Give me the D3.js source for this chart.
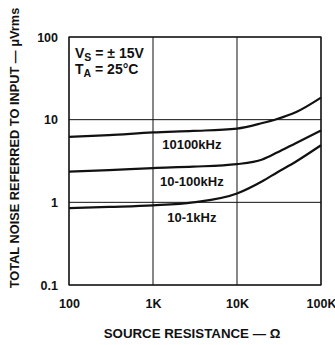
<!DOCTYPE html>
<html>
<head>
<meta charset="utf-8">
<script src="https://cdn.jsdelivr.net/npm/d3@7"></script>
<style>
  body { margin: 0; background: #fff; }
  text { font-family: "Liberation Sans", Arial, Helvetica, sans-serif; font-weight: bold; fill: #111; }
</style>
</head>
<body>
<div id="chart"></div>
<script>
// source resistance (ohms) sampled along each curve
var resistance = [100, 300, 1000, 3000, 10000, 20000, 30000, 50000, 100000];
// total noise referred to input, uVrms
var noise_wide = [6.2, 6.5, 7.0, 7.3, 7.8, 9.1, 10.2, 12.3, 18.5];
var noise_mid = [2.35, 2.45, 2.6, 2.7, 2.9, 3.3, 4.0, 5.2, 7.4];
var noise_low = [0.85, 0.88, 0.92, 1.0, 1.28, 1.8, 2.3, 3.1, 4.9];
var curveLabels = ['10100kHz', '10-100kHz', '10-1kHz'];
var xTicks = [100, 1000, 10000, 100000];
var xTickLabels = ['100', '1K', '10K', '100K'];
var yTicks = [0.1, 1, 10, 100];
var yTickLabels = ['0.1', '1', '10', '100'];

var W = 335, H = 345;
var margin = {top: 37, right: 14, bottom: 60, left: 69},
    width = W - margin.left - margin.right,
    height = H - margin.top - margin.bottom;

var svg = d3.select('#chart').append('svg')
    .attr('width', W).attr('height', H);
var g = svg.append('g')
    .attr('transform', 'translate(' + margin.left + ',' + margin.top + ')');

var x = d3.scaleLog().domain([100, 100000]).range([0, width]);
var y = d3.scaleLog().domain([0.1, 100]).range([height, 0]);

// grid
g.selectAll('.vgrid').data(xTicks).enter().append('line')
    .attr('x1', function(d) { return x(d); }).attr('x2', function(d) { return x(d); })
    .attr('y1', 0).attr('y2', height)
    .attr('stroke', '#111').attr('stroke-width', 1);
g.selectAll('.hgrid').data(yTicks).enter().append('line')
    .attr('y1', function(d) { return y(d); }).attr('y2', function(d) { return y(d); })
    .attr('x1', 0).attr('x2', width)
    .attr('stroke', '#111').attr('stroke-width', 1);

// axes (labels only)
var xAxis = g.append('g')
    .attr('transform', 'translate(0,' + height + ')')
    .call(d3.axisBottom(x).tickValues(xTicks).tickSize(0).tickPadding(14)
      .tickFormat(function(d, i) { return xTickLabels[i]; }));
xAxis.select('.domain').remove();
xAxis.selectAll('text').style('font-size', '12.5px')
    .style('font-family', '"Liberation Sans", Arial, sans-serif').style('font-weight', 'bold');

var yAxis = g.append('g')
    .call(d3.axisLeft(y).tickValues(yTicks).tickSize(0).tickPadding(11)
      .tickFormat(function(d, i) { return yTickLabels[i]; }));
yAxis.select('.domain').remove();
yAxis.selectAll('text').style('font-size', '12.5px')
    .style('font-family', '"Liberation Sans", Arial, sans-serif').style('font-weight', 'bold');

// curves
var line = d3.line()
    .x(function(d) { return x(d[0]); })
    .y(function(d) { return y(d[1]); })
    .curve(d3.curveMonotoneX);

[noise_wide, noise_mid, noise_low].forEach(function(s) {
  g.append('path')
    .datum(d3.zip(resistance, s))
    .attr('d', line)
    .attr('fill', 'none')
    .attr('stroke', '#111')
    .attr('stroke-width', 2.2);
});

// curve labels
var labelPos = [[2900, 4.47], [2900, 1.56], [2900, 0.574]];
g.selectAll('.clabel').data(curveLabels).enter().append('text')
    .attr('x', function(d, i) { return x(labelPos[i][0]); })
    .attr('y', function(d, i) { return y(labelPos[i][1]); })
    .attr('text-anchor', 'middle')
    .style('font-size', '13px')
    .text(function(d) { return d; });

// conditions
var cond = g.append('text').attr('x', 6).attr('y', 21).style('font-size', '14px');
cond.append('tspan').text('V');
cond.append('tspan').attr('dy', 3).style('font-size', '10.5px').text('S');
cond.append('tspan').attr('dy', -3).text(' =  \u00b1 15V');
var cond2 = g.append('text').attr('x', 6).attr('y', 37).style('font-size', '14px');
cond2.append('tspan').text('T');
cond2.append('tspan').attr('dy', 3).style('font-size', '10.5px').text('A');
cond2.append('tspan').attr('dy', -3).text(' = 25\u00b0C');

// frame
g.append('rect').attr('width', width).attr('height', height)
    .attr('fill', 'none').attr('stroke', '#111').attr('stroke-width', 1.2);

// axis titles
svg.append('text')
    .attr('x', 192).attr('y', 338)
    .attr('text-anchor', 'middle')
    .style('font-size', '13.3px')
    .text('SOURCE RESISTANCE \u2014 \u03a9');

svg.append('text')
    .attr('transform', 'translate(19,148) rotate(-90)')
    .attr('text-anchor', 'middle')
    .style('font-size', '12.8px')
    .text('TOTAL NOISE REFERRED TO INPUT \u2014 \u03bcVrms');
</script>
</body>
</html>
